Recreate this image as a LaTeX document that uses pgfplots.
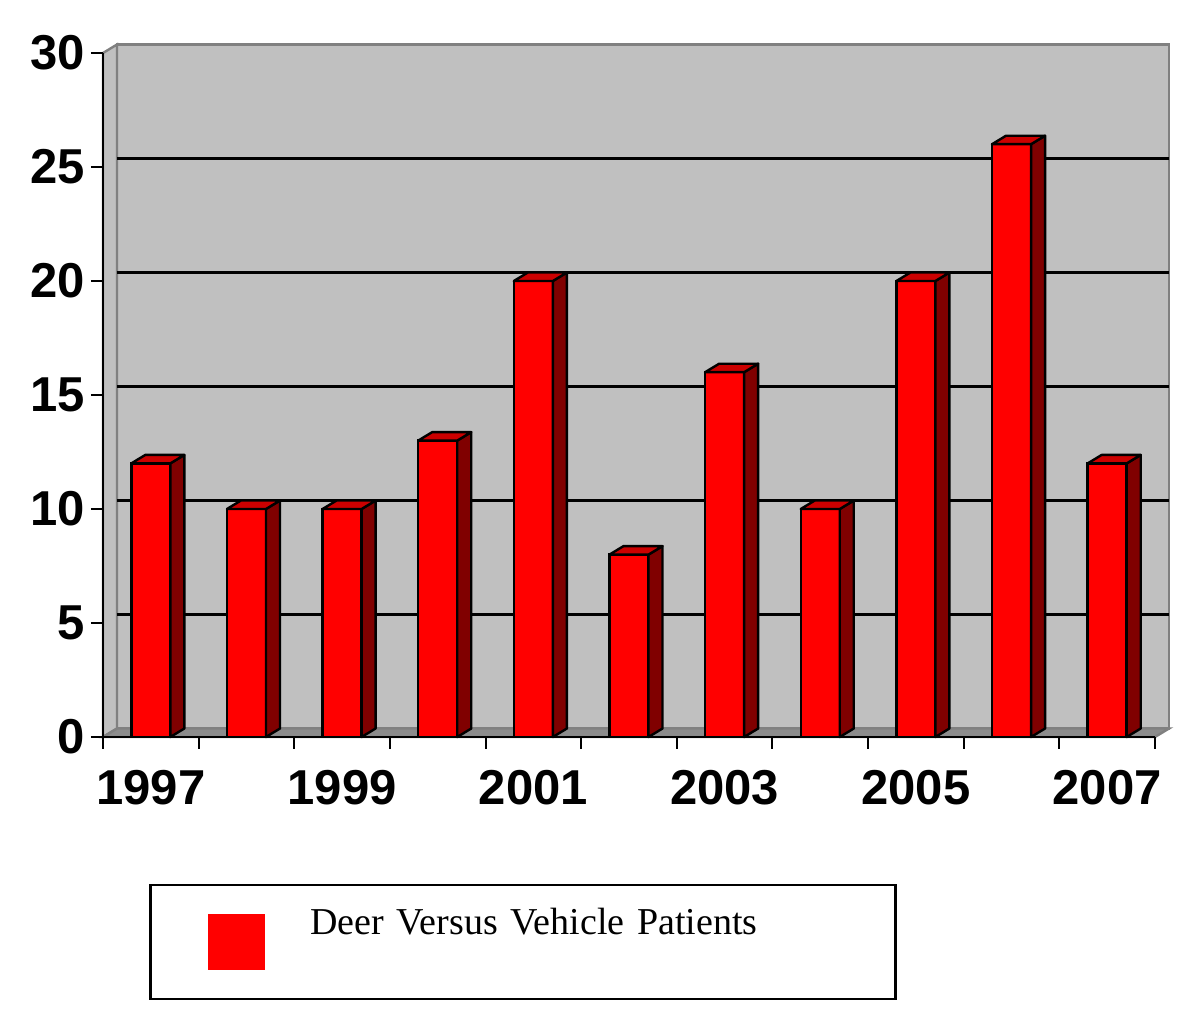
\documentclass[border=0pt]{standalone}
\usepackage{pgfplots}
\pgfplotsset{compat=1.18}
\usepackage{pgfplotstable}
\usepackage{fontspec}
\setmainfont{Liberation Serif}
\newfontfamily\arialfont{Liberation Sans}
\definecolor{wallgray}{HTML}{C0C0C0}
\definecolor{bordergray}{HTML}{808080}
\definecolor{floorgray}{HTML}{8C8C8C}
\definecolor{frontred}{HTML}{FF0000}
\definecolor{sidered}{HTML}{800000}
\definecolor{topred}{HTML}{CC0000}

\pgfplotstableread{
x y
0 12
1 10
2 10
3 13
4 20
5 8
6 16
7 10
8 20
9 26
10 12
}\deertable

\newcommand\bw{0.204}
\newcommand\ddx{0.1464}
\newcommand\ddy{0.372}

\begin{document}
\begin{tikzpicture}
\begin{axis}[
  at={(0,0)}, anchor=south west,
  scale only axis, width=526pt, height=342pt,
  xmin=-0.5, xmax=10.5, ymin=0, ymax=30,
  clip=false,
  axis on top,
  axis lines*=left,
  axis line style={black, line width=1pt},
  tick align=outside,
  xtick={0,2,4,6,8,10},
  xticklabels={1997,1999,2001,2003,2005,2007},
  minor xtick={-0.5,0.5,...,10.5},
  ytick={0,5,...,30},
  major tick length=6pt, minor tick length=6pt,
  major x tick style={draw=none},
  minor x tick style={black, line width=1pt},
  major y tick style={black, line width=1pt},
  ticklabel style={font=\fontsize{24.5}{24.5}\selectfont\arialfont\bfseries},
  /pgf/number format/assume math mode=true,
  yticklabel style={inner xsep=3pt},
  xticklabel style={inner ysep=10.5pt},
  legend style={at={(0.04373,-0.2149)}, anchor=north west, draw=black,
    line width=1.25pt, fill=white, inner sep=0pt, column sep=0pt,
    cells={anchor=base west},
    nodes={inner sep=0pt, text width=292.5pt, align=left,
      font=\fontsize{19}{19}\selectfont, text depth=0pt}},
]
% back wall
\addplot[forget plot, fill=wallgray, draw=bordergray, line width=1.2pt]
  coordinates {(-0.3536,0.372) (10.6464,0.372) (10.6464,30.372) (-0.3536,30.372)} --cycle;
% left wall
\addplot[forget plot, fill=wallgray, draw=bordergray, line width=1.2pt]
  coordinates {(-0.5,0) (-0.3536,0.372) (-0.3536,30.372) (-0.5,30)} --cycle;
% floor
\addplot[forget plot, fill=floorgray, draw=bordergray, line width=1.2pt]
  coordinates {(-0.5,0) (10.5,0) (10.6464,0.372) (-0.3536,0.372)} --cycle;
% gridlines
\addplot[forget plot, black, line width=1.15pt] coordinates {(-0.3536,5.372) (10.6464,5.372)};
\addplot[forget plot, black, line width=1.15pt] coordinates {(-0.3536,10.372) (10.6464,10.372)};
\addplot[forget plot, black, line width=1.15pt] coordinates {(-0.3536,15.372) (10.6464,15.372)};
\addplot[forget plot, black, line width=1.15pt] coordinates {(-0.3536,20.372) (10.6464,20.372)};
\addplot[forget plot, black, line width=1.15pt] coordinates {(-0.3536,25.372) (10.6464,25.372)};
% front faces
\addplot[ybar, bar width=0.408, bar shift=0, fill=frontred, draw=black, line width=1.2pt,
  legend image code/.code={\path[draw=none, fill=none] (-29pt,-32.5pt) rectangle (51pt,24.5pt);
    \path[draw=none, fill=frontred] (0pt,-18pt) rectangle (28.5pt,10pt);}]
  table[x=x,y=y] {\deertable};
\addlegendentry{Deer Versus Vehicle Patients}
% side and top faces
\pgfplotstablegetrowsof{\deertable}
\pgfmathtruncatemacro\lastrow{\pgfplotsretval-1}
\pgfplotsforeachungrouped \rr in {0,...,\lastrow}{%
  \pgfplotstablegetelem{\rr}{x}\of\deertable \let\cx=\pgfplotsretval
  \pgfplotstablegetelem{\rr}{y}\of\deertable \let\cy=\pgfplotsretval
  \pgfmathsetmacro\xl{\cx-\bw}%
  \pgfmathsetmacro\xr{\cx+\bw}%
  \pgfmathsetmacro\xlb{\cx-\bw+\ddx}%
  \pgfmathsetmacro\xrb{\cx+\bw+\ddx}%
  \pgfmathsetmacro\yb{\cy+\ddy}%
  \edef\temp{%
    \noexpand\addplot[forget plot, fill=sidered, draw=black, line width=1.2pt, line join=round]
      coordinates {(\xr,0) (\xrb,\ddy) (\xrb,\yb) (\xr,\cy)} --cycle;
    \noexpand\addplot[forget plot, fill=topred, draw=black, line width=1.2pt, line join=round]
      coordinates {(\xl,\cy) (\xr,\cy) (\xrb,\yb) (\xlb,\yb)} --cycle;
  }\temp
}
\end{axis}
\pgfresetboundingbox
\path (-51.5pt,-145pt) rectangle (548.5pt,368.5pt);
\end{tikzpicture}
\end{document}
